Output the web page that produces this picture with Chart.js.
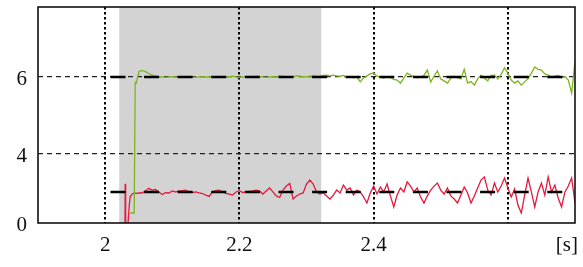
<!DOCTYPE html>
<html>
<head>
<meta charset="utf-8">
<script src="https://cdn.jsdelivr.net/npm/chart.js@4/dist/chart.umd.min.js"></script>
<style>
html,body{margin:0;padding:0;background:#fff;}
canvas{display:block;}
</style>
</head>
<body>
<canvas id="c" width="583" height="267"></canvas>
<script>
// ---------- data ----------
const xTicks = [2, 2.2, 2.4, 2.6, 2.688];
const xTickLabels = ['2', '2.2', '2.4', '', '[s]'];
const yTicks = [0, 4, 6];
const yTickLabels = ['0', '4', '6'];

const shadeRange = [2.021, 2.322];

const refT = [2.008, 2.7];
const refHigh = [6, 6];
const refLow = [1.8, 1.8];

const gridT = [
2.050,2.055,2.060,2.065,2.070,2.075,2.080,2.085,2.090,2.095,
2.100,2.105,2.110,2.115,2.120,2.125,2.130,2.135,2.140,2.145,
2.150,2.155,2.160,2.165,2.170,2.175,2.180,2.185,2.190,2.195,
2.200,2.205,2.210,2.215,2.220,2.225,2.230,2.235,2.240,2.245,
2.250,2.255,2.260,2.265,2.270,2.275,2.280,2.285,2.290,2.295,
2.300,2.305,2.310,2.315,2.320,2.325,2.330,2.335,2.340,2.345,
2.350,2.355,2.360,2.365,2.370,2.375,2.380,2.385,2.390,2.395,
2.400,2.405,2.410,2.415,2.420,2.425,2.430,2.435,2.440,2.445,
2.450,2.455,2.460,2.465,2.470,2.475,2.480,2.485,2.490,2.495,
2.500,2.505,2.510,2.515,2.520,2.525,2.530,2.535,2.540,2.545,
2.550,2.555,2.560,2.565,2.570,2.575,2.580,2.585,2.590,2.595,
2.600,2.605,2.610,2.615,2.620,2.625,2.630,2.635,2.640,2.645,
2.650,2.655,2.660,2.665,2.670,2.675,2.680,2.685,2.690,2.695,
2.700];

const greenStartT = [2.0373, 2.0433, 2.0448, 2.0463, 2.0478, 2.0493];
const greenStartV = [0.58, 0.58, 5.86, 5.84, 5.95, 6.06];
const greenV = [
6.14,6.17,6.14,6.09,6.05,6.02,6.01,6.00,5.99,6.00,
6.01,6.00,5.99,6.00,6.01,6.00,6.00,5.99,6.00,6.01,
6.00,6.00,6.01,6.00,5.99,6.00,6.00,6.01,6.02,6.00,
5.99,6.00,6.01,6.00,6.00,6.02,6.01,6.00,5.99,6.00,
6.01,6.00,6.02,6.01,6.00,6.00,6.01,6.03,6.02,6.01,
6.00,6.02,6.03,6.01,6.02,6.04,6.05,6.03,6.05,6.03,
6.02,6.04,6.00,6.01,5.98,6.00,5.88,5.97,6.03,6.08,
6.11,6.02,6.00,5.97,6.01,5.99,5.94,5.92,5.84,5.97,
6.10,6.05,6.01,5.98,6.00,6.04,6.18,5.87,6.02,6.16,
5.95,5.90,5.84,5.97,6.02,5.98,5.95,6.20,5.84,5.88,
5.79,5.95,6.05,5.97,5.90,6.04,6.05,5.95,6.07,6.24,
6.10,5.92,5.84,5.90,5.79,5.88,5.95,6.10,6.26,6.20,
6.18,6.08,6.05,6.00,6.02,6.04,5.98,6.01,5.92,5.58,
6.40];

const redStartT = [2.0296, 2.0299, 2.0306, 2.0335, 2.0343, 2.0358, 2.0373, 2.0403, 2.0433, 2.0463];
const redStartV = [-0.2, 2.27, -0.3, -0.1, 0.08, 0.94, 1.52, 1.68, 1.74, 1.72];
const redV = [
1.74,1.74,1.86,2.01,1.91,1.94,1.80,1.65,1.76,1.74,
1.86,1.80,1.86,1.88,1.91,1.80,1.76,1.80,1.74,1.71,
1.62,1.54,1.81,1.88,1.91,1.80,1.72,1.68,1.62,1.80,
1.87,1.77,1.80,1.83,1.86,1.91,1.86,1.68,1.86,2.03,
1.80,1.57,1.48,1.91,2.14,2.29,1.39,1.57,1.68,1.74,
2.26,2.49,2.26,1.80,1.68,1.74,1.57,1.39,1.62,1.91,
1.74,2.20,1.91,2.03,1.62,1.91,1.80,1.51,1.16,1.74,
2.14,1.68,2.09,1.80,2.26,1.57,0.93,1.62,2.03,1.80,
2.38,2.14,1.80,2.03,1.51,1.16,1.57,1.91,2.14,2.32,
1.91,1.68,2.03,1.57,1.39,1.16,1.62,2.09,1.74,1.16,
1.57,2.03,2.49,2.67,1.91,1.62,2.32,1.80,2.14,2.61,
2.03,1.51,1.97,1.04,0.58,1.62,2.61,1.80,0.93,1.80,
2.32,1.62,2.67,1.80,2.20,1.45,0.93,1.80,2.14,2.61,
1.16];

// piecewise vertical axis: the 0..4 band is drawn compressed
const yBreaks = [0, 4, 6, 7.818];
const yDisplay = [0, 1.792, 3.792, 5.610];

// ---------- helpers ----------
function pts(t, v) { return t.map((x, i) => ({x: x, y: v[i]})); }

class PiecewiseScale extends Chart.LinearScale {
  static id = 'piecewise';
  static defaults = Chart.LinearScale.defaults;
  _toU(v) {
    let i = 0;
    while (i < yBreaks.length - 2 && v > yBreaks[i + 1]) i++;
    return yDisplay[i] + (v - yBreaks[i]) * (yDisplay[i + 1] - yDisplay[i]) / (yBreaks[i + 1] - yBreaks[i]);
  }
  _fromU(u) {
    let i = 0;
    while (i < yDisplay.length - 2 && u > yDisplay[i + 1]) i++;
    return yBreaks[i] + (u - yDisplay[i]) * (yBreaks[i + 1] - yBreaks[i]) / (yDisplay[i + 1] - yDisplay[i]);
  }
  getPixelForValue(v) {
    if (v === null || v === undefined || isNaN(v)) return NaN;
    const u0 = this._toU(this.min), u1 = this._toU(this.max);
    return this.getPixelForDecimal((this._toU(v) - u0) / (u1 - u0));
  }
  getValueForPixel(p) {
    const u0 = this._toU(this.min), u1 = this._toU(this.max);
    return this._fromU(u0 + this.getDecimalForPixel(p) * (u1 - u0));
  }
}
Chart.register(PiecewiseScale);

const framePlugin = {
  id: 'frame',
  beforeDraw(chart) {
    const {ctx, chartArea: a, scales: {x}} = chart;
    ctx.save();
    ctx.fillStyle = '#fff';
    ctx.fillRect(0, 0, chart.width, chart.height);
    const x0 = x.getPixelForValue(shadeRange[0]);
    const x1 = x.getPixelForValue(shadeRange[1]);
    ctx.fillStyle = '#d3d3d3';
    ctx.fillRect(x0, a.top, x1 - x0, a.bottom - a.top);
    ctx.restore();
  },
  afterDraw(chart) {
    const {ctx, chartArea: a} = chart;
    ctx.save();
    ctx.strokeStyle = '#111';
    ctx.lineWidth = 1.6;
    ctx.strokeRect(a.left, a.top, a.right - a.left, a.bottom - a.top);
    ctx.restore();
  }
};

Chart.defaults.font.family = "'Liberation Serif', 'Times New Roman', serif";
Chart.defaults.font.size = 21;
Chart.defaults.color = '#111';

new Chart(document.getElementById('c'), {
  type: 'line',
  data: {
    datasets: [
      {data: pts(refT, refHigh), borderColor: '#000', borderWidth: 2.6, borderDash: [15, 18.6], pointRadius: 0},
      {data: pts(refT, refLow), borderColor: '#000', borderWidth: 2.6, borderDash: [15, 18.6], pointRadius: 0},
      {data: pts(greenStartT.concat(gridT), greenStartV.concat(greenV)), borderColor: '#7db51e', borderWidth: 1.3, pointRadius: 0, tension: 0},
      {data: pts(redStartT.concat(gridT), redStartV.concat(redV)), borderColor: '#e6193c', borderWidth: 1.3, pointRadius: 0, tension: 0}
    ]
  },
  options: {
    responsive: false,
    animation: false,
    devicePixelRatio: 1,
    layout: {padding: {top: 7, right: 8, left: 0, bottom: 0}},
    plugins: {legend: {display: false}, tooltip: {enabled: false}},
    scales: {
      x: {
        type: 'linear',
        min: 1.9, max: 2.7,
        afterBuildTicks: (s) => { s.ticks = xTicks.map(v => ({value: v})); },
        afterFit: (s) => { s.height = 44; s.paddingLeft = 0; s.paddingRight = 0; },
        ticks: {
          padding: 10,
          maxRotation: 0,
          autoSkip: false,
          callback: (v, i) => xTickLabels[i]
        },
        grid: {
          drawTicks: false,
          lineWidth: 2,
          color: (c) => (c.tick && xTickLabels[c.index] === '[s]') ? 'rgba(0,0,0,0)' : '#000'
        },
        border: {display: false, dash: [2.5, 2.5]}
      },
      y: {
        type: 'piecewise',
        min: 0, max: 7.818,
        afterBuildTicks: (s) => { s.ticks = yTicks.map(v => ({value: v})); },
        afterFit: (s) => { s.width = 38; s.paddingTop = 0; s.paddingBottom = 0; },
        ticks: {
          padding: 11,
          labelOffset: 2,
          autoSkip: false,
          callback: (v, i) => yTickLabels[i]
        },
        grid: {
          drawTicks: false,
          lineWidth: 1.2,
          color: (c) => (c.tick && c.tick.value === 0) ? 'rgba(0,0,0,0)' : '#222'
        },
        border: {display: false, dash: [5, 4]}
      }
    }
  },
  plugins: [framePlugin]
});
</script>
</body>
</html>
